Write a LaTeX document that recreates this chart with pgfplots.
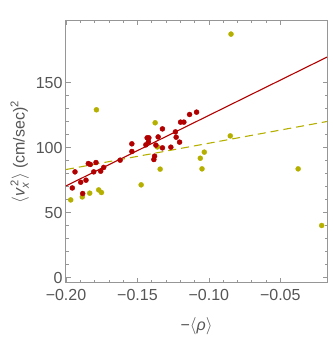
\documentclass[border=0pt]{standalone}
\usepackage{fontspec}
\setmainfont{Liberation Sans}
\usepackage{amsmath}
\usepackage{pgfplots}
\pgfplotsset{compat=1.18}
\definecolor{fitred}{RGB}{178,0,0}
\definecolor{fityel}{RGB}{181,176,0}
\definecolor{framegray}{RGB}{150,150,150}
\definecolor{labgray}{RGB}{85,85,85}
\begin{document}
\begin{tikzpicture}[x=1pt,y=1pt]
\begin{axis}[
  at={(66pt,78pt)}, anchor=south west,
  width=261pt, height=262pt, scale only axis,
  xmin=-0.2, xmax=-0.0173, ymin=-4.2, ymax=197.6,
  xtick={-0.2,-0.15,-0.1,-0.05},
  xticklabels={−0.20,−0.15,−0.10,−0.05},
  ytick={0,50,100,150},
  yticklabels={0,50,100,150},
  minor x tick num=4, minor y tick num=4,
  tick align=inside,
  major tick length=4.5pt, minor tick length=2.5pt,
  every tick/.style={framegray, line width=0.6pt},
  axis line style={framegray, line width=1pt},
  tick label style={font=\fontsize{16}{19}\selectfont, color=labgray},
  xticklabel style={yshift=-3pt},
  label style={font=\fontsize{16}{19}\selectfont, color=labgray},
  xticklabel pos=lower, yticklabel pos=left,
  xlabel={−$\langle$\textit{ρ}$\rangle$},
  ylabel={$\langle\text{\itshape v}_{\text{\itshape x}}^{\,\text{2}}\rangle$ (cm/sec)$^{\text{2}}$},
  xlabel style={yshift=-10pt},
  clip=true,
]
\addplot[fityel, line width=1.1pt, dash pattern=on 8pt off 5pt] coordinates {(-0.2,83.2) (-0.0173,120.2)};
\addplot[fitred, line width=1.1pt] coordinates {(-0.2,70.6) (-0.0173,169.8)};
\addplot[only marks, mark=*, mark size=2.5pt, fityel, mark options={draw=fityel, fill=fityel}] coordinates {
(-0.1967,59.8) (-0.1886,62.1) (-0.1834,65.0) (-0.1787,129.2) (-0.1771,67.5)
(-0.1752,65.5) (-0.1474,71.4) (-0.1376,119.2) (-0.1360,100.6) (-0.1341,83.5)
(-0.1060,91.9) (-0.1048,83.7) (-0.1032,96.6) (-0.0850,109.1) (-0.0845,187.5)
(-0.0375,83.7) (-0.0210,40.1)
};
\addplot[only marks, mark=*, mark size=2.5pt, fitred, mark options={draw=fitred, fill=fitred}] coordinates {
(-0.1956,69.0) (-0.1937,81.4) (-0.1897,73.4) (-0.1883,64.7) (-0.1860,75.0)
(-0.1844,87.8) (-0.1830,87.1) (-0.1806,81.4) (-0.1790,88.6) (-0.1757,81.9)
(-0.1736,84.8) (-0.1621,90.4) (-0.1539,103.0) (-0.1539,97.1) (-0.1441,102.2)
(-0.1432,107.6) (-0.1420,107.6) (-0.1423,104.5) (-0.1371,102.0) (-0.1380,93.5)
(-0.1385,90.9) (-0.1355,108.3) (-0.1325,114.5) (-0.1325,99.9) (-0.1266,100.4)
(-0.1234,112.2) (-0.1229,108.1) (-0.1205,104.3) (-0.1198,119.7) (-0.1175,119.7)
(-0.1135,125.6) (-0.1086,127.4)
};
\end{axis}
\pgfresetboundingbox
\path (0,0) rectangle (332,361);
\end{tikzpicture}
\end{document}
